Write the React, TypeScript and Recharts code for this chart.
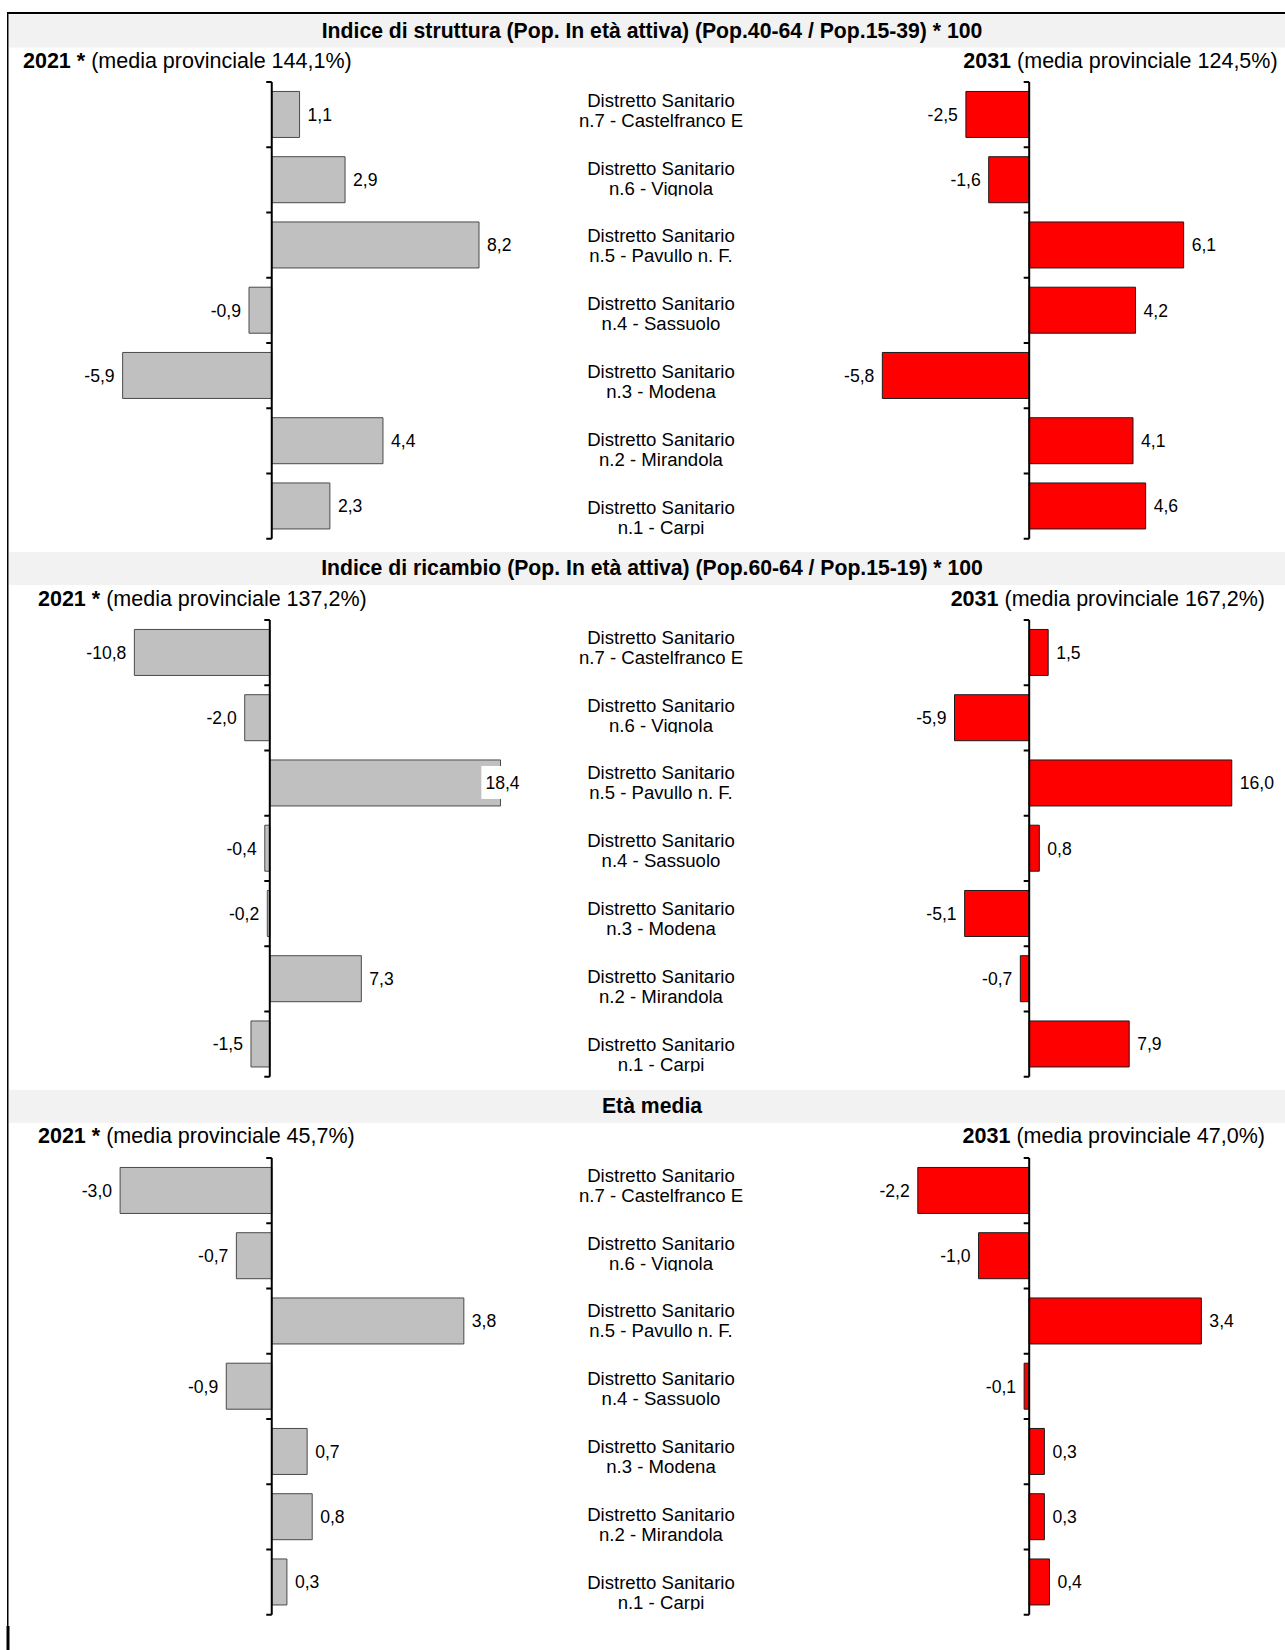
import React from "react";
import { BarChart, Bar, XAxis, YAxis, ReferenceLine, LabelList } from "recharts";

// ---------------- data ----------------
const districtPrefix = "Distretto Sanitario";
const districts = [
  "n.7 - Castelfranco E",
  "n.6 - Vignola",
  "n.5 - Pavullo n. F.",
  "n.4 - Sassuolo",
  "n.3 - Modena",
  "n.2 - Mirandola",
  "n.1 - Carpi",
];

const panelTitles = [
  "Indice di struttura (Pop. In età attiva) (Pop.40-64 / Pop.15-39) * 100",
  "Indice di ricambio (Pop. In età attiva) (Pop.60-64 / Pop.15-19) * 100",
  "Età media",
];
const leftYear = "2021 *";
const rightYear = "2031";
const media2021 = ["144,1%", "137,2%", "45,7%"];
const media2031 = ["124,5%", "167,2%", "47,0%"];

const struttura2021 = [1.1, 2.9, 8.2, -0.9, -5.9, 4.4, 2.3];
const struttura2031 = [-2.5, -1.6, 6.1, 4.2, -5.8, 4.1, 4.6];
const ricambio2021 = [-10.8, -2.0, 18.4, -0.4, -0.2, 7.3, -1.5];
const ricambio2031 = [1.5, -5.9, 16.0, 0.8, -5.1, -0.7, 7.9];
const eta2021 = [-3.0, -0.7, 3.8, -0.9, 0.7, 0.8, 0.3];
const eta2031 = [-2.2, -1.0, 3.4, -0.1, 0.3, 0.3, 0.4];

const leftSeries = [struttura2021, ricambio2021, eta2021];
const rightSeries = [struttura2031, ricambio2031, eta2031];
const axisHalfRange = [10, 20, 5];

// ---------------- layout ----------------
const FONT = "'Liberation Sans', Arial, Helvetica, sans-serif";
const W = 1285;
const H = 1650;
const PANEL_OFFSETS = [0, 537.5, 1075.3];
const BAND_TOP = 14.5;
const BAND_H = 33;
const TITLE_X = 652;
const TITLE_BASE = 37.8;
const TITLE_FS = 21.2;
const SUB_BASE = 68;
const SUB_FS = 21.5;
const SUB_LEFT_X = [23, 38, 38];
const SUB_RIGHT_X = [1277.6, 1265, 1265];
const PLOT_TOP = 82.2;
const PLOT_H = 456.75;
const LEFT_PLOT = [
  [19, 524.5],
  [19, 520.6],
  [19, 524.5],
];
const RIGHT_PLOT = [776.3, 1282.7];
const LABEL_CX = 661;
const LABEL_BAND = 67.8;
const LABEL_TOP = 110.7 - LABEL_BAND / 2;
const LABEL_H = LABEL_BAND * 7;
const M = 6;
const VALUE_FS = 17.6;
const CAT_FS = 18.6;
const CAT_LINE2 = 16;

const fmt = (v: number) => v.toFixed(1).replace(".", ",");

const charW = (c: string) => {
  if (c === ",") return 0.278;
  if (c === "-") return 0.333;
  return 0.556;
};
const textWidth = (s: string, fs: number) =>
  s.split("").reduce((a, c) => a + charW(c), 0) * fs;

function makeValueLabel(plotLeft: number, plotRight: number) {
  return (props: any) => {
    const vb = props.viewBox ?? props;
    const x = Number(props.x ?? vb.x);
    const y = Number(props.y ?? vb.y);
    const w = Number(props.width ?? vb.width);
    const h = Number(props.height ?? vb.height);
    const v = Number(props.value);
    if (!isFinite(v)) return null;
    const end = v >= 0 ? Math.max(x, x + w) : Math.min(x, x + w);
    const cy = y + h / 2;
    const base = cy + VALUE_FS * 0.358;
    const txt = fmt(v);
    const tw = textWidth(txt, VALUE_FS);
    const common = {
      fontFamily: FONT,
      fontSize: VALUE_FS,
      fill: "#000",
    } as any;
    if (v >= 0) {
      const tx = end + 8;
      if (tx + tw > plotRight) {
        const ex = plotRight - 1;
        return (
          <g>
            <rect x={ex - tw - 4} y={cy - 17} width={tw + 6} height={33} fill="#ffffff" />
            <text x={ex} y={base} textAnchor="end" {...common}>
              {txt}
            </text>
          </g>
        );
      }
      return (
        <text x={tx} y={base} textAnchor="start" {...common}>
          {txt}
        </text>
      );
    }
    const tx = end - 8;
    return (
      <text x={tx} y={base} textAnchor="end" {...common}>
        {txt}
      </text>
    );
  };
}

function SideChart({
  values,
  half,
  plotL,
  plotR,
  top,
  fill,
  stroke,
}: {
  values: number[];
  half: number;
  plotL: number;
  plotR: number;
  top: number;
  fill: string;
  stroke: string;
}) {
  const data = districts.map((name, i) => ({ name, value: values[i] }));
  const pw = plotR - plotL;
  const tickLen = (2 * half * 5.5) / pw;
  const label = makeValueLabel(M, M + pw);
  return (
    <div
      style={{
        position: "absolute",
        left: plotL - M,
        top: top - M,
        width: pw + 2 * M,
        height: PLOT_H + 2 * M,
      }}
    >
      <BarChart
        width={pw + 2 * M}
        height={PLOT_H + 2 * M}
        data={data}
        layout="vertical"
        margin={{ top: M, right: M, bottom: M, left: M }}
        barCategoryGap="14.5%"
      >
        <XAxis type="number" domain={[-half, half]} hide allowDataOverflow />
        <YAxis type="category" dataKey="name" hide />
        <Bar
          dataKey="value"
          fill={fill}
          stroke={stroke}
          strokeWidth={1}
          isAnimationActive={false}
        >
          <LabelList dataKey="value" content={label} />
        </Bar>
        <ReferenceLine x={0} stroke="#000" strokeWidth={2} ifOverflow="visible" />
        {districts.map((d) => (
          <ReferenceLine
            key={"s" + d}
            segment={[
              { x: -tickLen, y: d },
              { x: 0, y: d },
            ]}
            position="start"
            stroke="#000"
            strokeWidth={2}
            ifOverflow="visible"
          />
        ))}
        <ReferenceLine
          key="end"
          segment={[
            { x: -tickLen, y: districts[districts.length - 1] },
            { x: 0, y: districts[districts.length - 1] },
          ]}
          position="end"
          stroke="#000"
          strokeWidth={2}
          ifOverflow="visible"
        />
      </BarChart>
    </div>
  );
}

function LabelChart({ top, pid }: { top: number; pid: number }) {
  const data = districts.map((name) => ({ name }));
  const cw = 320;
  const pad = 40;
  const Tick = (props: any) => {
    const { y, payload, index } = props;
    const id = `catclip-${pid}-${index}`;
    return (
      <g>
        <defs>
          <clipPath id={id}>
            <rect x={0} y={y - 30} width={cw} height={30 + CAT_LINE2 + 1.6} />
          </clipPath>
        </defs>
        <g clipPath={`url(#${id})`}>
          <text
            x={cw / 2}
            y={y - 4}
            textAnchor="middle"
            fontFamily={FONT}
            fontSize={CAT_FS}
            fill="#000"
          >
            {districtPrefix}
          </text>
          <text
            x={cw / 2}
            y={y + CAT_LINE2}
            textAnchor="middle"
            fontFamily={FONT}
            fontSize={CAT_FS}
            fill="#000"
          >
            {payload.value}
          </text>
        </g>
      </g>
    );
  };
  return (
    <div
      style={{
        position: "absolute",
        left: LABEL_CX - cw / 2,
        top: top - pad,
        width: cw,
        height: LABEL_H + 2 * pad,
      }}
    >
      <BarChart
        width={cw}
        height={LABEL_H + 2 * pad}
        data={data}
        layout="vertical"
        margin={{ top: pad, right: 0, bottom: pad, left: 0 }}
      >
        <XAxis type="number" hide domain={[0, 1]} />
        <YAxis
          type="category"
          dataKey="name"
          width={cw - 10}
          axisLine={false}
          tickLine={false}
          tick={<Tick />}
          interval={0}
        />
      </BarChart>
    </div>
  );
}

function Panel({ i }: { i: number }) {
  const off = PANEL_OFFSETS[i];
  return (
    <>
      <SideChart
        values={leftSeries[i]}
        half={axisHalfRange[i]}
        plotL={LEFT_PLOT[i][0]}
        plotR={LEFT_PLOT[i][1]}
        top={off + PLOT_TOP}
        fill="#c0c0c0"
        stroke="#4a4a4a"
      />
      <LabelChart top={off + LABEL_TOP} pid={i} />
      <SideChart
        values={rightSeries[i]}
        half={axisHalfRange[i]}
        plotL={RIGHT_PLOT[0]}
        plotR={RIGHT_PLOT[1]}
        top={off + PLOT_TOP}
        fill="#ff0000"
        stroke="#1a1a1a"
      />
    </>
  );
}

export default function App() {
  return (
    <div
      style={{
        position: "absolute",
        left: 0,
        top: 0,
        width: W,
        height: H,
        overflow: "hidden",
        background: "#ffffff",
      }}
    >
      <svg
        width={W}
        height={H}
        style={{ position: "absolute", left: 0, top: 0 }}
      >
        {PANEL_OFFSETS.map((off, i) => (
          <g key={i}>
            <rect x={9} y={off + BAND_TOP} width={W - 9} height={BAND_H} fill="#f2f2f2" />
            <text
              x={TITLE_X}
              y={off + TITLE_BASE}
              textAnchor="middle"
              fontFamily={FONT}
              fontSize={TITLE_FS}
              fontWeight="bold"
              fill="#000"
            >
              {panelTitles[i]}
            </text>
            <text
              x={SUB_LEFT_X[i]}
              y={off + SUB_BASE}
              fontFamily={FONT}
              fontSize={SUB_FS}
              fill="#000"
            >
              <tspan fontWeight="bold">{leftYear}</tspan>
              <tspan>{` (media provinciale ${media2021[i]})`}</tspan>
            </text>
            <text
              x={SUB_RIGHT_X[i]}
              y={off + SUB_BASE}
              textAnchor="end"
              fontFamily={FONT}
              fontSize={SUB_FS}
              fill="#000"
            >
              <tspan fontWeight="bold">{rightYear}</tspan>
              <tspan>{` (media provinciale ${media2031[i]})`}</tspan>
            </text>
          </g>
        ))}
        <rect x={7} y={12} width={W - 7} height={2} fill="#000" />
        <rect x={7} y={12} width={1.5} height={H - 12} fill="#000" />
        <rect x={6.5} y={1626} width={3} height={H - 1626} fill="#000" />
      </svg>
      {PANEL_OFFSETS.map((_, i) => (
        <Panel key={i} i={i} />
      ))}
    </div>
  );
}
